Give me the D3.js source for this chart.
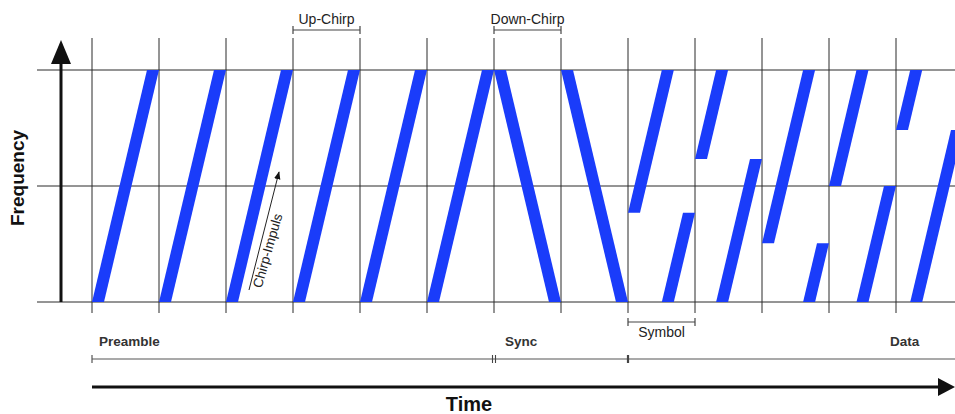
<!DOCTYPE html>
<html>
<head>
<meta charset="utf-8">
<script src="https://cdn.jsdelivr.net/npm/d3@7"></script>
<style>
  html, body { margin: 0; padding: 0; background: #fff; }
  svg { display: block; font-family: Arial, "Liberation Sans", sans-serif; }
</style>
</head>
<body>
<svg id="chart" width="955" height="414"></svg>
<script>
// ---- data ----
const slotBoundaries = [0, 1, 2, 3, 4, 5, 6, 7, 8, 9, 10, 11, 12];
const chirpTypes = ["up", "up", "up", "up", "up", "up", "down", "down", "data", "data", "data", "data", "data"];
const startFreq = [0, 0, 0, 0, 0, 0, 1, 1, 0.385, 0.616, 0.253, 0.5, 0.741];
const freqLevels = [0, 0.5, 1];
const sectionLabels = ["Preamble", "Sync", "Data"];
const sectionStarts = [0, 6, 8];
const bracketLabels = ["Up-Chirp", "Down-Chirp", "Symbol"];
const bracketSlots = [3, 6, 8];

// ---- layout ----
const svg = d3.select("#chart");
const x = d3.scaleLinear().domain([0, 13]).range([92, 963]);
const y = d3.scaleLinear().domain([0, 1]).range([302, 70]);
const th = 12 / 67;           // stripe thickness in slot units
const sw = 1 - th;            // sweep width
const blue = "#1a3cfa";
const grid = "#2a2a2a";

// arrow markers
const defs = svg.append("defs");
defs.append("marker").attr("id", "smallArrow").attr("viewBox", "0 0 10 10")
  .attr("refX", 9).attr("refY", 5).attr("markerWidth", 8).attr("markerHeight", 8)
  .attr("markerUnits", "userSpaceOnUse").attr("orient", "auto")
  .append("path").attr("d", "M0,1 L10,5 L0,9 Z").attr("fill", "#111");

// grid: horizontal
svg.append("g").selectAll("line").data(freqLevels).join("line")
  .attr("x1", 37).attr("x2", 955)
  .attr("y1", d => y(d)).attr("y2", d => y(d))
  .attr("stroke", grid).attr("stroke-width", 1);

// grid: vertical slot boundaries
svg.append("g").selectAll("line").data(slotBoundaries).join("line")
  .attr("x1", d => x(d)).attr("x2", d => x(d))
  .attr("y1", 38).attr("y2", 313)
  .attr("stroke", grid).attr("stroke-width", 1);

// chirp stripes
function seg(leftFn, fa, fb) {
  return [[x(leftFn(fa)), y(fa)], [x(leftFn(fb)), y(fb)],
          [x(leftFn(fb) + th), y(fb)], [x(leftFn(fa) + th), y(fa)]];
}
const polys = [];
chirpTypes.forEach((t, i) => {
  const s = startFreq[i];
  if (t === "down") {
    polys.push(seg(f => i + sw * (1 - f), 1, 0));
  } else {
    polys.push(seg(f => i + sw * (f - s), s, 1));
    if (s > 0) polys.push(seg(f => i + sw * (1 - s + f), 0, s));
  }
});
svg.append("g").selectAll("path").data(polys).join("path")
  .attr("d", d => "M" + d.map(p => p.join(",")).join("L") + "Z")
  .attr("fill", blue);

// frequency axis arrow
svg.append("line").attr("x1", 61).attr("x2", 61).attr("y1", y(0)).attr("y2", 60)
  .attr("stroke", "#111").attr("stroke-width", 3);
svg.append("path").attr("d", "M61,40 L71,64 L51,64 Z").attr("fill", "#111");
svg.append("text").attr("transform", "translate(24,178) rotate(-90)")
  .attr("text-anchor", "middle").attr("font-size", 19).attr("font-weight", "bold")
  .attr("fill", "#111").text("Frequency");

// time axis arrow
svg.append("line").attr("x1", x(0)).attr("x2", 942).attr("y1", 387).attr("y2", 387)
  .attr("stroke", "#111").attr("stroke-width", 3);
svg.append("path").attr("d", "M955,387 L938,378 L938,396 Z").attr("fill", "#111");
svg.append("text").attr("x", 469).attr("y", 411).attr("text-anchor", "middle")
  .attr("font-size", 20).attr("font-weight", "bold").attr("fill", "#111").text("Time");

// brackets (Up-Chirp, Down-Chirp above; Symbol below)
bracketLabels.forEach((lab, k) => {
  const i = bracketSlots[k];
  const below = lab === "Symbol";
  const by = below ? 322 : 30;
  const g = svg.append("g").attr("stroke", "#444").attr("stroke-width", 1.2);
  g.append("line").attr("x1", x(i)).attr("x2", x(i + 1)).attr("y1", by).attr("y2", by);
  g.append("line").attr("x1", x(i)).attr("x2", x(i)).attr("y1", by - 4).attr("y2", by + 4);
  g.append("line").attr("x1", x(i + 1)).attr("x2", x(i + 1)).attr("y1", by - 4).attr("y2", by + 4);
  svg.append("text").attr("x", (x(i) + x(i + 1)) / 2).attr("y", below ? 337 : 24)
    .attr("text-anchor", "middle").attr("font-size", 14).attr("fill", "#222").text(lab);
});

// section timeline
svg.append("line").attr("x1", x(0)).attr("x2", 955).attr("y1", 359).attr("y2", 359)
  .attr("stroke", "#555").attr("stroke-width", 1.2);
svg.append("line").attr("x1", x(0)).attr("x2", x(0)).attr("y1", 355).attr("y2", 363)
  .attr("stroke", "#555").attr("stroke-width", 1.2);
[-1.5, 1.5].forEach(o => {
  svg.append("line").attr("x1", x(6) + o).attr("x2", x(6) + o).attr("y1", 355).attr("y2", 363)
    .attr("stroke", "#444").attr("stroke-width", 1.1);
});
svg.append("line").attr("x1", x(8)).attr("x2", x(8)).attr("y1", 355).attr("y2", 363)
  .attr("stroke", "#444").attr("stroke-width", 2.2);

const labelX = [99, 505, 890];
svg.append("g").selectAll("text").data(sectionLabels).join("text")
  .attr("x", (d, k) => labelX[k]).attr("y", 346)
  .attr("font-size", 13.5).attr("font-weight", "bold").attr("fill", "#333")
  .text(d => d);

// Chirp-Impuls annotation
svg.append("line").attr("x1", 249).attr("y1", 290).attr("x2", 279).attr("y2", 172)
  .attr("stroke", "#222").attr("stroke-width", 1).attr("marker-end", "url(#smallArrow)");
svg.append("text").attr("transform", "translate(272,252) rotate(-74)")
  .attr("text-anchor", "middle").attr("font-size", 13.5).attr("fill", "#222")
  .text("Chirp-Impuls");
</script>
</body>
</html>
